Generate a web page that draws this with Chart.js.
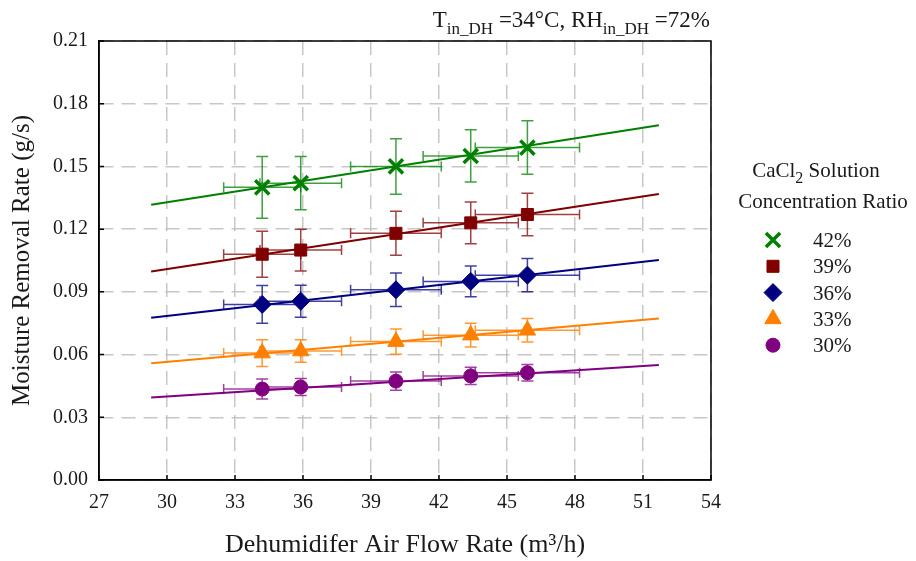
<!DOCTYPE html>
<html>
<head>
<meta charset="utf-8">
<script src="https://cdn.jsdelivr.net/npm/chart.js@4.4.0/dist/chart.umd.min.js"></script>
<style>
    body { margin: 0; background: #fff; }
    #chart { display: block; }
</style>
</head>
<body>
<canvas id="chart" width="916" height="561"></canvas>
<script>
// Values

const airFlow = [34.2, 35.9, 40.1, 43.4, 45.9];
const airFlowErr = [1.7, 1.8, 2.0, 2.1, 2.3];

const seriesLabels = ['42%', '39%', '36%', '33%', '30%'];

const rate42 = [0.140, 0.142, 0.150, 0.155, 0.159];
const rate39 = [0.108, 0.110, 0.118, 0.123, 0.127];
const rate36 = [0.084, 0.0855, 0.091, 0.095, 0.098];
const rate33 = [0.0607, 0.0617, 0.0662, 0.0693, 0.0716];
const rate30 = [0.0435, 0.0445, 0.0473, 0.0498, 0.0513];

const err42 = [0.0148, 0.0127, 0.0133, 0.0125, 0.0128];
const err39 = [0.0110, 0.0100, 0.0105, 0.0100, 0.0102];
const err36 = [0.0090, 0.0077, 0.0080, 0.0074, 0.0080];
const err33 = [0.0064, 0.0054, 0.0060, 0.0057, 0.0056];
const err30 = [0.0048, 0.0041, 0.0044, 0.0041, 0.0040];

// linear fits, drawn between the two end points
const fitRange = [29.3, 51.7];
const fit42 = [0.1317, 0.1697];
const fit39 = [0.0997, 0.1368];
const fit36 = [0.0776, 0.1052];
const fit33 = [0.0558, 0.0772];
const fit30 = [0.0395, 0.0550];

const xTicks = [27, 30, 33, 36, 39, 42, 45, 48, 51, 54];
const yTicks = [0, 0.03, 0.06, 0.09, 0.12, 0.15, 0.18, 0.21];

const colors = ['#008000', '#800000', '#000080', '#ff8000', '#800080'];
const barColors = ['rgba(0,128,0,0.75)', 'rgba(128,0,0,0.75)', 'rgba(0,0,128,0.75)', 'rgba(255,128,0,0.8)', 'rgba(128,0,128,0.75)'];
const markers = [
    { style: 'crossRot', radius: 10, width: 3.5 },
    { style: 'rect', radius: 8.5, width: 1 },
    { style: 'rectRot', radius: 9, width: 1 },
    { style: 'triangle', radius: 9.5, width: 1 },
    { style: 'circle', radius: 7, width: 1 }
];

const rates = [rate42, rate39, rate36, rate33, rate30];
const errs = [err42, err39, err36, err33, err30];
const fits = [fit42, fit39, fit36, fit33, fit30];

const FONT = "'Liberation Serif', 'Times New Roman', serif";

// point datasets first so they end up on top
const pointSets = rates.map((vals, i) => ({
    label: seriesLabels[i],
    data: airFlow.map((x, j) => ({ x: x, y: vals[j] })),
    pointStyle: markers[i].style,
    pointRadius: markers[i].radius,
    pointBorderWidth: markers[i].width,
    backgroundColor: colors[i],
    borderColor: colors[i],
    showLine: false
}));

const fitSets = fits.map((vals, i) => ({
    label: 'fit ' + seriesLabels[i],
    data: fitRange.map((x, j) => ({ x: x, y: vals[j] })),
    showLine: true,
    borderColor: colors[i],
    borderWidth: 2,
    pointRadius: 0
}));

// error bars, drawn under the markers
const errorBars = {
    id: 'errorBars',
    beforeDatasetsDraw(chart) {
        const ctx = chart.ctx;
        const xs = chart.scales.x;
        const ys = chart.scales.y;
        ctx.save();
        ctx.lineWidth = 1.5;
        rates.forEach((vals, i) => {
            ctx.strokeStyle = barColors[i];
            vals.forEach((v, j) => {
                const px = xs.getPixelForValue(airFlow[j]);
                const py = ys.getPixelForValue(v);
                const top = ys.getPixelForValue(v + errs[i][j]);
                const bot = ys.getPixelForValue(v - errs[i][j]);
                const lft = xs.getPixelForValue(airFlow[j] - airFlowErr[j]);
                const rgt = xs.getPixelForValue(airFlow[j] + airFlowErr[j]);
                ctx.beginPath();
                ctx.moveTo(px, top); ctx.lineTo(px, bot);
                ctx.moveTo(px - 6, top); ctx.lineTo(px + 6, top);
                ctx.moveTo(px - 6, bot); ctx.lineTo(px + 6, bot);
                ctx.moveTo(lft, py); ctx.lineTo(rgt, py);
                ctx.moveTo(lft, py - 5); ctx.lineTo(lft, py + 5);
                ctx.moveTo(rgt, py - 5); ctx.lineTo(rgt, py + 5);
                ctx.stroke();
            });
        });
        ctx.restore();
    }
};

// draws text made of normal and subscript pieces
function drawRuns(ctx, runs, x, baseline, align, size) {
    const big = size + 'px ' + FONT;
    const small = Math.round(size * 0.75) + 'px ' + FONT;
    let total = 0;
    runs.forEach(r => {
        ctx.font = r[1] ? small : big;
        total += ctx.measureText(r[0]).width;
    });
    let cx = align === 'right' ? x - total : align === 'center' ? x - total / 2 : x;
    ctx.textAlign = 'left';
    ctx.textBaseline = 'alphabetic';
    runs.forEach(r => {
        ctx.font = r[1] ? small : big;
        ctx.fillText(r[0], cx, baseline + (r[1] ? size * 0.3 : 0));
        cx += ctx.measureText(r[0]).width;
    });
}

const decorations = {
    id: 'decorations',
    afterDraw(chart) {
        const ctx = chart.ctx;
        const area = chart.chartArea;
        const xs = chart.scales.x;
        const ys = chart.scales.y;
        ctx.save();

        // frame and small inward ticks
        ctx.strokeStyle = '#000';
        ctx.lineWidth = 1.5;
        ctx.strokeRect(area.left, area.top, area.right - area.left, area.bottom - area.top);
        ctx.beginPath();
        xTicks.forEach(t => {
            const px = xs.getPixelForValue(t);
            ctx.moveTo(px, area.bottom); ctx.lineTo(px, area.bottom - 5);
        });
        yTicks.forEach(t => {
            const py = ys.getPixelForValue(t);
            ctx.moveTo(area.left, py); ctx.lineTo(area.left + 5, py);
        });
        ctx.stroke();

        ctx.fillStyle = '#1a1a1a';
        drawRuns(ctx, [['T', 0], ['in_DH', 1], [' =34°C, RH', 0], ['in_DH', 1], [' =72%', 0]], 710, 27, 'right', 23);

        // legend
        drawRuns(ctx, [['CaCl', 0], ['2', 1], [' Solution', 0]], 816, 177, 'center', 21);
        drawRuns(ctx, [['Concentration Ratio', 0]], 823, 208, 'center', 21);
        seriesLabels.forEach((lab, i) => {
            const y = 240 + i * 26.3;
            ctx.fillStyle = colors[i];
            ctx.strokeStyle = colors[i];
            ctx.lineWidth = markers[i].width;
            Chart.helpers.drawPoint(ctx, {
                pointStyle: markers[i].style,
                radius: markers[i].radius,
                rotation: 0,
                borderWidth: markers[i].width
            }, 773, y);
            ctx.fillStyle = '#1a1a1a';
            drawRuns(ctx, [[lab, 0]], 813, y + 7, 'left', 21);
        });
        ctx.restore();
    }
};

new Chart(document.getElementById('chart'), {
    type: 'scatter',
    data: { datasets: pointSets.concat(fitSets) },
    options: {
        responsive: false,
        animation: false,
        layout: { padding: { top: 41, right: 205, bottom: 0, left: 0 } },
        plugins: {
            legend: { display: false },
            tooltip: { enabled: false }
        },
        scales: {
            x: {
                type: 'linear',
                min: 27,
                max: 54,
                afterBuildTicks: s => { s.ticks = xTicks.map(v => ({ value: v })); },
                afterFit: s => { s.height = 81; },
                ticks: {
                    padding: 11,
                    color: '#1a1a1a',
                    font: { family: FONT, size: 20 },
                    callback: v => String(v)
                },
                grid: {
                    color: 'rgba(185,185,185,0.8)',
                    lineWidth: 1.5,
                    drawTicks: false
                },
                border: { display: true, color: '#000', width: 1.5, dash: [14, 8] },
                title: {
                    display: true,
                    text: 'Dehumidifer Air Flow Rate (m³/h)',
                    color: '#1a1a1a',
                    font: { family: FONT, size: 26 },
                    padding: { top: 4, bottom: 0 }
                }
            },
            y: {
                type: 'linear',
                min: 0,
                max: 0.21,
                afterBuildTicks: s => { s.ticks = yTicks.map(v => ({ value: v })); },
                afterFit: s => { s.width = 99; },
                ticks: {
                    padding: 11,
                    color: '#1a1a1a',
                    font: { family: FONT, size: 20 },
                    callback: v => v.toFixed(2)
                },
                grid: {
                    color: 'rgba(185,185,185,0.8)',
                    lineWidth: 1.5,
                    drawTicks: false
                },
                border: { display: true, color: '#000', width: 1.5, dash: [14, 8] },
                title: {
                    display: true,
                    text: 'Moisture Removal Rate (g/s)',
                    color: '#1a1a1a',
                    font: { family: FONT, size: 25 },
                    padding: { top: 7, bottom: 4 }
                }
            }
        }
    },
    plugins: [errorBars, decorations]
});
</script>
</body>
</html>
